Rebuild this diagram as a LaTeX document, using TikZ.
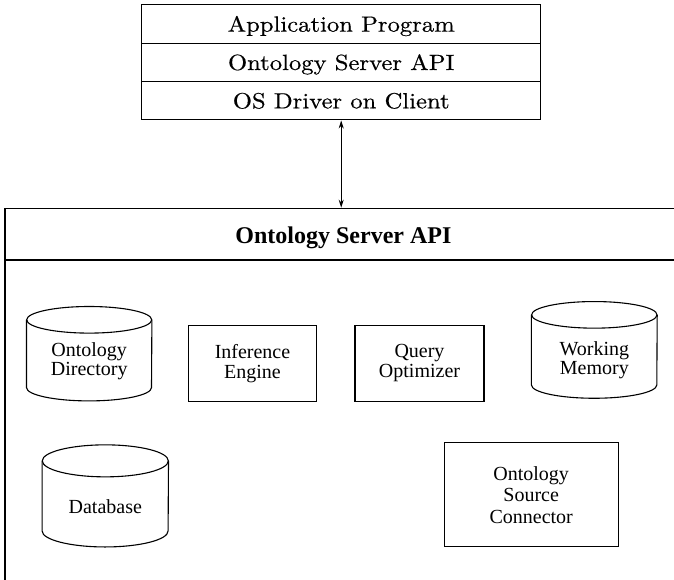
\documentclass[tikz,border=0pt]{standalone}
\usepackage{fontspec}
\newfontfamily\tms{Liberation Serif}
\newfontfamily\stackface[Extension=.otf, FakeStretch=1.12, FakeBold=0.5]{lmroman10-regular}
\usetikzlibrary{arrows.meta}
% cylinder outline around an empty node: #1 node, #2 x radius, #3 y radius
\newcommand\drawcylinder[3]{%
  \draw[cylline] ([yshift=-#3]#1.north) ellipse [x radius=#2, y radius=#3];
  \draw[cylline] ([yshift=-#3]#1.north west) -- ([yshift=#3]#1.south west)
    arc [start angle=180, end angle=360, x radius=#2, y radius=#3]
    -- ([yshift=-#3]#1.north east);
}
\begin{document}
\begin{tikzpicture}[x=1pt, y=-1pt,
  stackrow/.style={draw, line width=1pt, minimum width=399pt, minimum height=38.3pt,
    inner sep=0pt, text height=15pt, text depth=0pt,
    font={\stackface\fontsize{22}{26}\selectfont}},
  frame/.style={draw, line width=1.6pt, anchor=north west, minimum width=720pt, inner sep=0pt},
  box/.style={draw, line width=1.1pt, align=center, inner sep=0pt,
    font={\tms\fontsize{20}{20}\selectfont}},
  cylbody/.style={inner sep=0pt, minimum width=#1},
  cyltext/.style={align=center, inner sep=0pt, font={\tms\fontsize{20}{19.5}\selectfont}},
  cylline/.style={line width=1.1pt},
  link/.style={line width=1pt, {Stealth[length=8pt,width=5pt]}-{Stealth[length=8pt,width=5pt]}}
]
\useasboundingbox (0,0) rectangle (674,580);
\clip (0,0) rectangle (674,580);

% client side stack
\node[stackrow] (app) at (341.2,24.15) {Application Program};
\node[stackrow] (capi) at (341.2,62.5) {Ontology Server API};
\node[stackrow] (drv) at (341.2,100.85) {OS Driver on Client};

% server frame with its header band
\node[frame, minimum height=420pt] (srv) at (4,207.7) {};
\node[frame, minimum height=51.3pt] (hdr) at (4,207.7) {};
\node[inner sep=0pt, text height=16pt, text depth=0pt,
  font={\tms\bfseries\fontsize{24}{28}\selectfont}] (hdrtxt) at (343.4,235.3) {Ontology Server API};

\draw[link] (drv.south) -- (drv.south |- srv.north);

% server components
\node[box, minimum width=128pt, minimum height=76pt] (ie) at (252.5,363.7) {Inference\\Engine};
\node[box, minimum width=129pt, minimum height=76pt] (qo) at (419.5,363.5) {Query\\Optimizer};
\node[box, minimum width=174pt, minimum height=104pt] (osc) at (531.2,494.7) {Ontology\\[1.5pt]Source\\[1.5pt]Connector};

% data stores
\node[cylbody=125pt, minimum height=94pt] (od) at (89.2,353.7) {};
\drawcylinder{od}{62.5pt}{13.3pt}
\node[cyltext] (odt) at (89.2,361) {Ontology\\Directory};

\node[cylbody=125.4pt, minimum height=96.3pt] (wm) at (594.3,349.9) {};
\drawcylinder{wm}{62.7pt}{13.3pt}
\node[cyltext] (wmt) at (594.3,360) {Working\\Memory};

\node[cylbody=126pt, minimum height=101.7pt] (db) at (105.3,495.9) {};
\drawcylinder{db}{63pt}{16pt}
\node[cyltext, anchor=base] (dbt) at (105.3,513) {Database};
\end{tikzpicture}
\end{document}
